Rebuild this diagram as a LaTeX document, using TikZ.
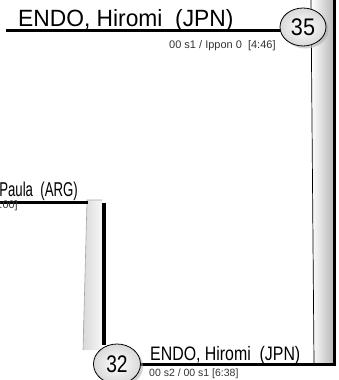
\documentclass[tikz,border=0pt]{standalone}
\usepackage{fontspec}
\setmainfont{Liberation Sans}
\usepackage{graphicx}
\usetikzlibrary{shapes.geometric,shadows}
\begin{document}
\begin{tikzpicture}[x=1pt,y=-1pt,
  namelbl/.style={inner sep=0pt},
  scorelbl/.style={inner sep=0pt,font=\fontsize{11}{11}\selectfont,text=black!80},
  boutnum/.style={ellipse,draw=black,line width=0.8pt,inner sep=0pt,
    inner color=white,outer color=gray!30,
    drop shadow={shadow xshift=2.5pt,shadow yshift=-2.5pt,fill=gray!70}},
  heavy/.style={line width=3pt},
  shadowbar/.style={fill=black}]
\useasboundingbox (0,0) rectangle (339,380);
% right bar
\shade[left color=white,right color=gray!55] (311,0) rectangle (333,363);
\fill[shadowbar] (333,0) rectangle (336,366);
\coordinate (rbt) at (311,0);
\coordinate (rbb) at (314,363);
\draw[line width=0.7pt] (rbt) -- (rbb);
% middle bar
\shade[left color=gray!30,right color=gray!6] (87,200) -- (102,200) -- (102,350) -- (83,350) -- cycle;
\draw[gray!70,line width=0.6pt] (83,350) -- (87,200) -- (102,200);
\fill[shadowbar] (102,203) rectangle (105.5,345);
% horizontal lines
\coordinate (tl) at (6,30.5);
\coordinate (tr) at (290,30.5);
\draw[heavy] (tl) -- (tr);
\coordinate (pl) at (-2,202);
\coordinate (pr) at (88,202);
\draw[heavy] (pl) -- (pr);
\coordinate (bl) at (125,364.5);
\coordinate (br) at (336,364.5);
\draw[heavy] (bl) -- (br);
% texts
\node[namelbl,anchor=base west] (top) at (18,27)
  {\fontsize{23.5}{24}\selectfont\scalebox{0.97}[1]{ENDO, Hiromi\ \ (JPN)}};
\node[scorelbl,anchor=base west] (tops) at (169,48) {00 s1 / Ippon 0\ \ [4:46]};
\node[namelbl,anchor=base east] (mid) at (78,196)
  {\fontsize{20}{20}\selectfont\scalebox{0.66}[1]{Paula\ \ (ARG)}};
\node[scorelbl,anchor=base east] (mids) at (18,208) {:00]};
\node[namelbl,anchor=base west] (bot) at (150,360)
  {\fontsize{19.5}{20}\selectfont\scalebox{0.815}[1]{ENDO, Hiromi\ \ (JPN)}};
\node[scorelbl,anchor=base west,font=\fontsize{10.5}{11}\selectfont] (bots) at (149,376) {00 s2 / 00 s1 [6:38]};
% bout circles
\node[boutnum,minimum width=46pt,minimum height=38pt] (c35) at (303,27)
  {\fontsize{24}{24}\selectfont\scalebox{0.9}[1]{35}};
\node[boutnum,minimum width=47pt,minimum height=40pt] (c32) at (117,364)
  {\fontsize{24}{24}\selectfont\scalebox{0.8}[1]{32}};
\end{tikzpicture}
\end{document}
